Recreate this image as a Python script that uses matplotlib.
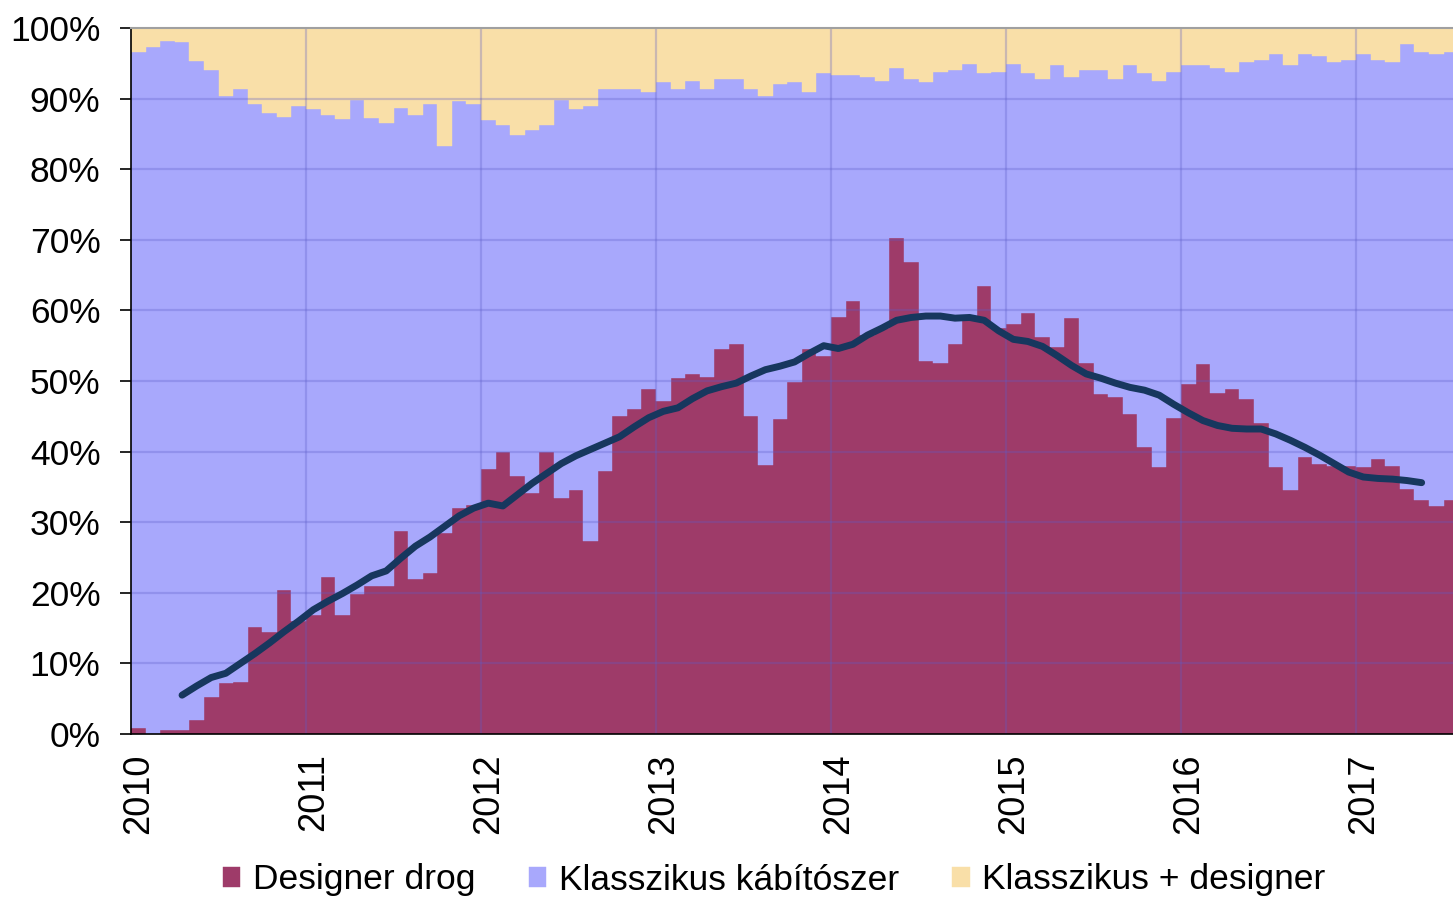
import matplotlib.pyplot as plt
import numpy as np

plt.rcParams['font.family'] = ['Liberation Sans', 'DejaVu Sans']

# havi adatok 2010 jan - 2017 jul (%)
designer = [0.8, 0.0, 0.5, 0.5, 2.0, 5.2, 7.2, 7.4, 15.2, 14.4, 20.4, 16.0,
            16.9, 22.3, 16.9, 19.9, 20.9, 20.9, 28.8, 22.0, 22.8, 28.5, 32.0, 32.5,
            37.5, 39.9, 36.6, 34.2, 39.9, 33.4, 34.5, 27.3, 37.2, 45.0, 46.1, 48.8,
            47.2, 50.4, 51.0, 50.6, 54.5, 55.3, 45.0, 38.1, 44.6, 49.9, 54.5, 53.5,
            59.1, 61.3, 56.5, 57.5, 70.3, 66.8, 52.9, 52.6, 55.3, 58.6, 63.5, 57.5,
            58.1, 59.7, 56.2, 54.8, 58.9, 52.6, 48.1, 47.8, 45.3, 40.7, 37.8, 44.8,
            49.6, 52.4, 48.3, 48.9, 47.5, 44.0, 37.8, 34.6, 39.3, 38.3, 37.9, 37.9,
            37.8, 39.0, 38.0, 34.7, 33.1, 32.3, 33.1]
klasszikus = [95.8, 97.3, 97.7, 97.5, 93.3, 88.9, 83.2, 84.0, 74.1, 73.5, 67.0, 73.0,
              71.6, 65.4, 70.2, 69.9, 66.4, 65.7, 59.9, 65.7, 66.5, 54.8, 57.6, 56.8,
              49.4, 46.4, 48.3, 51.3, 46.4, 56.4, 54.0, 61.7, 54.2, 46.4, 45.3, 42.1,
              45.1, 41.0, 41.5, 40.8, 38.3, 37.5, 46.4, 52.3, 47.4, 42.4, 36.4, 40.1,
              34.2, 32.0, 36.6, 35.0, 24.1, 26.0, 39.4, 41.2, 38.8, 36.3, 30.1, 36.3,
              36.8, 33.9, 36.6, 39.9, 34.2, 41.5, 46.0, 45.0, 49.4, 52.9, 54.7, 49.0,
              45.1, 42.3, 46.1, 44.9, 47.7, 51.5, 58.5, 60.1, 57.0, 57.7, 57.3, 57.6,
              58.5, 56.5, 57.2, 63.0, 63.5, 64.0, 63.5]
kombinalt = [3.4, 2.7, 1.8, 2.0, 4.7, 5.9, 9.6, 8.6, 10.7, 12.1, 12.6, 11.0,
             11.5, 12.3, 12.9, 10.2, 12.7, 13.4, 11.3, 12.3, 10.7, 16.7, 10.4, 10.7,
             13.1, 13.7, 15.1, 14.5, 13.7, 10.2, 11.5, 11.0, 8.6, 8.6, 8.6, 9.1,
             7.7, 8.6, 7.5, 8.6, 7.2, 7.2, 8.6, 9.6, 8.0, 7.7, 9.1, 6.4,
             6.7, 6.7, 6.9, 7.5, 5.6, 7.2, 7.7, 6.2, 5.9, 5.1, 6.4, 6.2,
             5.1, 6.4, 7.2, 5.3, 6.9, 5.9, 5.9, 7.2, 5.3, 6.4, 7.5, 6.2,
             5.3, 5.3, 5.6, 6.2, 4.8, 4.5, 3.7, 5.3, 3.7, 4.0, 4.8, 4.5,
             3.7, 4.5, 4.8, 2.3, 3.4, 3.7, 3.4]

# mozgo atlag (designer), 2010 apr - 2017 maj
trend_start = 3
trend = [5.5, 6.8, 8.0, 8.6, 10.0, 11.4, 12.9, 14.5, 16.0,
         17.6, 18.8, 19.9, 21.1, 22.4, 23.1, 24.9, 26.6, 27.9, 29.4, 30.9, 32.0,
         32.7, 32.3, 33.9, 35.5, 36.9, 38.3, 39.4, 40.3, 41.2, 42.1, 43.5, 44.8,
         45.7, 46.2, 47.5, 48.6, 49.2, 49.7, 50.7, 51.6, 52.1, 52.7, 53.9, 55.0,
         54.6, 55.2, 56.5, 57.5, 58.6, 59.0, 59.2, 59.2, 58.9, 59.0, 58.6, 57.1,
         55.9, 55.6, 54.9, 53.6, 52.2, 51.0, 50.4, 49.7, 49.1, 48.7, 48.0, 46.7,
         45.5, 44.4, 43.7, 43.3, 43.2, 43.2, 42.5, 41.6, 40.6, 39.5, 38.3, 37.1,
         36.4, 36.2, 36.1, 35.9, 35.6]

years = ['2010', '2011', '2012', '2013', '2014', '2015', '2016', '2017']

d = np.array(designer)
k = np.array(klasszikus)
c = np.array(kombinalt)
x = np.arange(len(d))

fig = plt.figure(figsize=(14.53, 9.0), dpi=100)
ax = fig.add_axes([131 / 1453, 1 - 734 / 900, 1 - 131 / 1453, 706 / 900])

ax.bar(x, d, width=1, align='edge', color='#9E3B69', edgecolor='#9E3B69', lw=0.3,
       label='Designer drog', zorder=1)
ax.bar(x, k, width=1, align='edge', bottom=d, color='#A8A8FC', edgecolor='#A8A8FC', lw=0.3,
       label='Klasszikus kábítószer', zorder=1)
ax.bar(x, c, width=1, align='edge', bottom=d + k, color='#F9DFA8', edgecolor='#F9DFA8', lw=0.3,
       label='Klasszikus + designer', zorder=1)

tx = np.arange(trend_start, trend_start + len(trend)) + 0.5
ax.plot(tx, trend, color='#17375E', lw=5, solid_capstyle='round', solid_joinstyle='round', zorder=4)

ax.set_xlim(0, 90.65)
ax.set_ylim(0, 100)

# racs a savok folott
for yy in range(10, 100, 10):
    ax.axhline(yy, color='#5C5CC8', alpha=0.3, lw=1.6, zorder=2)
for i in range(1, len(years)):
    ax.axvline(12 * i, color='#5C5CC8', alpha=0.3, lw=1.6, zorder=2)

ax.set_yticks(range(0, 101, 10))
ax.set_yticklabels([f'{v}%' for v in range(0, 101, 10)], fontsize=25.5)
ax.tick_params(axis='y', direction='out', length=8, width=1.2, pad=14)

ax.set_xticks([12 * i + 0.5 for i in range(len(years))])
ax.set_xticklabels(years, rotation=90, fontsize=26, va='top')
ax.tick_params(axis='x', length=0, pad=14)

ax.spines['right'].set_visible(False)
ax.spines['top'].set_color('#A0A0A0')
ax.spines['top'].set_linewidth(1.5)
ax.spines['left'].set_linewidth(1.2)
ax.spines['bottom'].set_linewidth(1.2)

fig.legend(loc='center', bbox_to_anchor=(774 / 1453, 1 - 880 / 900), ncol=3, frameon=False,
           fontsize=25.5, handlelength=0.5, handleheight=0.5, handletextpad=0.35,
           columnspacing=1.5)

plt.savefig('out.png', dpi=100)
